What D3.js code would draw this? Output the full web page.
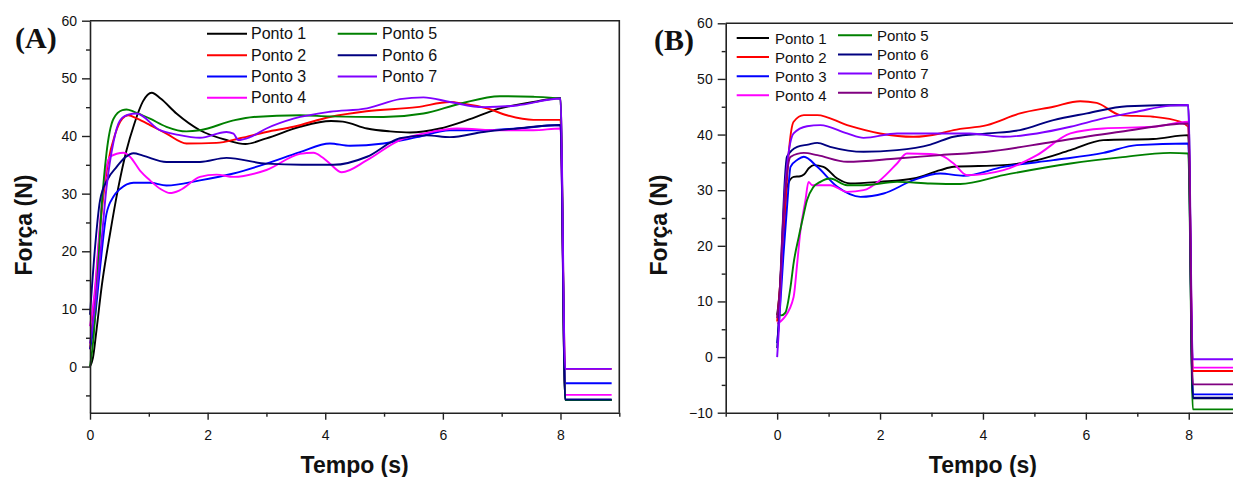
<!DOCTYPE html>
<html>
<head>
<meta charset="utf-8">
<script src="https://cdn.jsdelivr.net/npm/d3@7"></script>
<style>
  body { margin: 0; background: #fff; }
  svg { display: block; }
  text { font-family: "Liberation Sans", Arial, sans-serif; fill: #111; }
</style>
</head>
<body>
<svg id="chart" width="1233" height="477"></svg>
<script>
// ---- Data: force (N) vs time (s), pairs of [tempo, forca] ----
const seriesNames = ["Ponto 1", "Ponto 2", "Ponto 3", "Ponto 4", "Ponto 5", "Ponto 6", "Ponto 7", "Ponto 8"];

// Panel A
const pontoA1 = [[0,0],[0.05,1.5],[0.11,6.3],[0.2,14],[0.34,23],[0.48,31],[0.62,37.5],[0.75,42],[0.9,46],[1.05,47.5],[1.2,46.5],[1.47,43.9],[1.87,41.0],[2.32,39.3],[2.64,38.6],[3.0,39.6],[3.57,41.6],[4.1,42.6],[4.3,42.5],[4.71,41.3],[5.1,40.8],[5.44,40.6],[5.95,41.3],[6.4,42.7],[6.97,44.8],[7.54,45.9],[8.0,46.6],[8.08,-5.8],[8.87,-5.8]];
const pontoA2 = [[0,3],[0.08,12],[0.18,25],[0.3,35],[0.43,40.4],[0.55,43],[0.65,43.6],[0.8,43],[1.02,41.9],[1.3,40.4],[1.64,38.7],[2.15,38.8],[2.55,39.6],[3.0,40.7],[3.46,41.6],[4.08,43.3],[4.7,44.3],[5.56,45.0],[6.12,45.9],[6.35,45.6],[6.75,44.8],[7.09,43.6],[7.54,42.8],[8.0,42.8],[8.08,-0.4],[8.87,-0.4]];
const pontoA3 = [[0,3],[0.08,8],[0.17,17],[0.28,26.5],[0.4,29.5],[0.51,30.8],[0.74,31.9],[1.02,31.9],[1.3,31.4],[1.87,32.3],[2.44,33.5],[3.0,35.2],[3.57,37.2],[4.08,38.7],[4.42,38.3],[4.99,38.7],[5.56,39.8],[6.12,41.0],[6.69,41.0],[7.26,41.3],[8.0,41.9],[8.08,-2.9],[8.87,-2.9]];
const pontoA4 = [[0,7],[0.08,13],[0.18,26],[0.27,34],[0.34,36.4],[0.57,37.1],[0.68,36.4],[0.85,34],[1.02,32.3],[1.2,30.8],[1.36,30.1],[1.53,30.6],[1.87,32.9],[2.15,33.3],[2.44,32.9],[3.0,34.1],[3.57,36.9],[3.8,37.1],[3.95,36.3],[4.08,35.2],[4.28,33.7],[4.71,35.8],[5.27,39.3],[5.67,40.4],[6.24,41.3],[6.97,41.0],[7.54,41.0],[8.0,41.3],[8.08,-4.9],[8.87,-4.9]];
const pontoA5 = [[0,0],[0.06,5],[0.13,16],[0.2,28],[0.28,37],[0.4,43],[0.55,44.5],[0.62,44.6],[0.75,44.2],[1.02,43.0],[1.3,41.6],[1.64,40.8],[1.87,41.0],[2.44,42.7],[2.78,43.3],[3.57,43.6],[4.08,43.4],[4.99,43.3],[5.67,43.9],[6.29,45.6],[6.97,46.9],[7.54,46.8],[8.0,46.5],[8.08,-5.8],[8.87,-5.8]];
const pontoA6 = [[0,9],[0.08,20],[0.17,28.8],[0.3,32.5],[0.45,34.6],[0.6,36.3],[0.74,37.0],[0.9,36.6],[1.3,35.5],[1.87,35.5],[2.32,36.2],[3.0,35.2],[3.6,35.0],[4.14,35.0],[4.71,36.4],[5.27,39.6],[5.73,40.1],[6.12,39.8],[6.69,40.7],[7.26,41.3],[8.0,41.9],[8.08,-5.7],[8.87,-5.7]];
const pontoA7 = [[0,4],[0.08,10],[0.18,20],[0.28,31],[0.4,39],[0.51,42.7],[0.65,43.7],[0.79,43.9],[1.19,41.0],[1.5,40.2],[1.87,39.7],[2.32,40.7],[2.44,40.4],[2.52,39.3],[2.72,39.8],[3.0,41.3],[3.46,43.0],[4.08,44.2],[4.71,44.8],[5.27,46.4],[5.67,46.7],[6.12,45.9],[6.69,45.0],[7.26,45.3],[8.0,46.5],[8.08,-0.4],[8.87,-0.4]];

// Panel B
const pontoB1 = [[0,7.5],[0.05,12],[0.1,20],[0.15,27],[0.19,30.6],[0.32,32.4],[0.45,32.5],[0.52,32.8],[0.62,34],[0.71,34.5],[0.9,34.2],[1.17,32.1],[1.42,31.2],[2.0,31.5],[2.65,32.1],[3.17,33.6],[3.43,34.2],[4.4,34.5],[5.05,35.4],[5.7,37.2],[6.34,39.0],[7.31,39.2],[7.99,39.9],[8.08,-7.4],[9,-7.4]];
const pontoB2 = [[0,6.4],[0.05,12],[0.13,22.2],[0.23,37.2],[0.32,42.3],[0.52,43.5],[0.78,43.5],[1.36,41.7],[2.0,40.2],[2.65,39.6],[3.17,40.2],[3.43,40.8],[4.08,41.7],[4.72,43.8],[5.37,45.0],[5.89,46.0],[6.21,45.7],[6.67,43.5],[7.31,43.2],[7.83,42.3],[7.99,41.4],[8.08,-2.5],[9,-2.5]];
const pontoB3 = [[0,2.5],[0.05,8],[0.12,18],[0.2,28],[0.26,34.2],[0.4,35.5],[0.52,36.0],[0.78,34.2],[1.17,30.6],[1.62,28.8],[2.07,29.4],[2.65,31.8],[3.17,33.0],[3.62,32.6],[4.4,34.2],[5.37,35.4],[6.34,36.7],[6.99,38.1],[7.99,38.4],[8.08,-6.7],[9,-6.7]];
const pontoB4 = [[0,6],[0.13,7.0],[0.32,10.8],[0.39,16.9],[0.45,22.5],[0.55,28.2],[0.61,31.5],[0.68,30.9],[0.78,30.9],[1.03,30.9],[1.36,29.7],[1.68,30.0],[2.0,31.8],[2.33,34.8],[2.52,36.6],[2.98,36.5],[3.17,36.3],[3.43,34.8],[3.69,32.7],[4.4,33.6],[5.05,36.3],[5.7,40.2],[6.34,41.1],[7.31,41.4],[7.99,42.3],[8.08,-1.9],[9,-1.9]];
const pontoB5 = [[0,8],[0.08,7.5],[0.16,8],[0.26,12.6],[0.32,16.9],[0.42,21.6],[0.5,25],[0.58,28.2],[0.7,30.5],[0.84,31.5],[1.03,32.1],[1.36,30.9],[1.68,30.9],[2.33,31.5],[2.98,31.2],[3.56,31.1],[4.4,32.7],[5.7,34.8],[6.67,35.9],[7.64,36.7],[7.99,36.6],[8.08,-9.4],[9,-9.4]];
const pontoB6 = [[0,1.6],[0.05,10],[0.1,22],[0.15,32],[0.19,36],[0.39,37.8],[0.6,38.2],[0.78,38.5],[1.03,37.8],[1.68,36.9],[2.33,37.2],[2.98,38.2],[3.43,39.6],[4.08,40.2],[4.72,40.8],[5.37,42.6],[6.02,43.8],[6.8,45.1],[7.99,45.3],[8.08,-7.3],[9,-7.3]];
const pontoB7 = [[0,0],[0.05,8],[0.1,20],[0.15,30],[0.19,34.2],[0.32,40.2],[0.58,41.5],[0.84,41.7],[1.36,40.2],[1.68,39.4],[2.33,40.2],[2.98,40.2],[3.75,40.2],[4.4,39.6],[5.05,40.2],[5.7,41.4],[6.34,42.9],[6.99,44.1],[7.64,45.2],[7.99,45.3],[8.08,-0.4],[9,-0.4]];
const pontoB8 = [[0,7],[0.05,12],[0.1,22],[0.18,32],[0.26,36],[0.52,36.7],[0.78,36.3],[1.36,35.1],[2.33,35.7],[3.17,36.3],[4.08,36.9],[5.37,38.7],[6.67,40.5],[7.99,42.0],[8.08,-4.9],[9,-4.9]];

// Tick values
const xMajorTicks = [0, 2, 4, 6, 8];
const xMinorTicksA = [1, 3, 5, 7, 9];
const xMinorTicksB = [-1, 1, 3, 5, 7, 9];
const yMajorTicksA = [0, 10, 20, 30, 40, 50, 60];
const yMinorTicksA = [-5, 5, 15, 25, 35, 45, 55];
const yMajorTicksB = [-10, 0, 10, 20, 30, 40, 50, 60];
const yMinorTicksB = [-5, 5, 15, 25, 35, 45, 55];

// ---- Styling ----
const lineColors = ["#000000", "#ff0000", "#0000ff", "#ff00ff", "#008000", "#000080", "#8000ff", "#800080"];
const axisColor = "#222";

const svg = d3.select("#chart");

function drawPanel(p) {
  const g = svg.append("g");
  const x = d3.scaleLinear().domain(p.xDomain).range([p.left, p.right]);
  const y = d3.scaleLinear().domain(p.yDomain).range([p.bottom, p.top]);

  // frame (top and right edges)
  g.append("path")
    .attr("d", `M${p.left},${p.top}H${p.right}V${p.bottom}`)
    .attr("fill", "none").attr("stroke", axisColor).attr("stroke-width", 1.6);

  // curves
  const line = d3.line().x(d => x(d[0])).y(d => y(d[1])).curve(d3.curveMonotoneX);
  p.series.forEach((s, i) => {
    g.append("path").datum(s)
      .attr("d", line)
      .attr("fill", "none")
      .attr("stroke", lineColors[i])
      .attr("stroke-width", 1.9)
      .attr("stroke-linejoin", "round");
  });

  // bottom axis: major + minor ticks
  const xAxis = g.append("g").attr("transform", `translate(0,${p.bottom})`)
    .call(d3.axisBottom(x).tickValues(xMajorTicks).tickSize(7).tickSizeOuter(0).tickPadding(10).tickFormat(d3.format("d")));
  g.append("g").attr("transform", `translate(0,${p.bottom})`)
    .call(d3.axisBottom(x).tickValues(p.xMinor).tickSize(4).tickSizeOuter(0).tickFormat(""))
    .select(".domain").remove();

  // left axis: major + minor ticks
  const yAxis = g.append("g").attr("transform", `translate(${p.left},0)`)
    .call(d3.axisLeft(y).tickValues(p.yMajor).tickSize(8).tickSizeOuter(0).tickPadding(5).tickFormat(d3.format("d")));
  g.append("g").attr("transform", `translate(${p.left},0)`)
    .call(d3.axisLeft(y).tickValues(p.yMinor).tickSize(4).tickSizeOuter(0).tickFormat(""))
    .select(".domain").remove();

  g.selectAll(".domain").attr("stroke", axisColor).attr("stroke-width", 1.6);
  g.selectAll(".tick line").attr("stroke", axisColor).attr("stroke-width", 1.4);
  xAxis.selectAll(".tick text").attr("font-size", 14).attr("fill", "#111")
    .attr("font-family", "'Liberation Sans', Arial, sans-serif");
  yAxis.selectAll(".tick text").attr("font-size", 14).attr("fill", "#111")
    .attr("font-family", "'Liberation Sans', Arial, sans-serif");

  // axis titles
  g.append("text")
    .attr("x", (p.left + p.right) / 2).attr("y", 473)
    .attr("text-anchor", "middle").attr("font-size", 23).attr("font-weight", "bold")
    .text("Tempo (s)");
  g.append("text")
    .attr("transform", `translate(${p.yTitleX},${p.yTitleY}) rotate(-90)`)
    .attr("text-anchor", "middle").attr("font-size", 23).attr("font-weight", "bold")
    .text("Força (N)");

  // panel tag
  g.append("text")
    .attr("x", p.tagX).attr("y", p.tagY)
    .attr("font-family", "'Liberation Serif', 'Times New Roman', serif")
    .style("font-family", "'Liberation Serif', 'Times New Roman', serif")
    .attr("font-size", 30).attr("font-weight", "bold")
    .text(p.tag);

  // legend
  p.legend.forEach(col => {
    col.items.forEach((idx, r) => {
      const base = col.rows[r];
      g.append("line")
        .attr("x1", col.x1).attr("x2", col.x2)
        .attr("y1", base - 5.5).attr("y2", base - 5.5)
        .attr("stroke", lineColors[idx]).attr("stroke-width", 1.9);
      g.append("text")
        .attr("x", col.tx).attr("y", base)
        .attr("font-size", p.legendFont)
        .text(seriesNames[idx]);
    });
  });
}

drawPanel({
  left: 90, right: 619.3, top: 20.7, bottom: 412.7,
  xDomain: [0, 9], yDomain: [-8, 60],
  xMinor: xMinorTicksA, yMajor: yMajorTicksA, yMinor: yMinorTicksA,
  series: [pontoA1, pontoA2, pontoA3, pontoA4, pontoA5, pontoA6, pontoA7],
  yTitleX: 32, yTitleY: 225,
  tag: "(A)", tagX: 15, tagY: 48,
  legendFont: 16,
  legend: [
    { x1: 207, x2: 247, tx: 251, items: [0, 1, 2, 3], rows: [39.3, 60.7, 82, 103.3] },
    { x1: 337.7, x2: 377, tx: 382, items: [4, 5, 6], rows: [39.3, 60.7, 82] }
  ]
});

drawPanel({
  left: 725.7, right: 1240.2, top: 23.3, bottom: 412.7,
  xDomain: [-1, 9], yDomain: [-10, 60],
  xMinor: xMinorTicksB, yMajor: yMajorTicksB, yMinor: yMinorTicksB,
  series: [pontoB1, pontoB2, pontoB3, pontoB4, pontoB5, pontoB6, pontoB7, pontoB8],
  yTitleX: 667, yTitleY: 225,
  tag: "(B)", tagX: 654, tagY: 50,
  legendFont: 15,
  legend: [
    { x1: 736.7, x2: 769, tx: 775, items: [0, 1, 2, 3], rows: [43.5, 62.5, 81.7, 100.7] },
    { x1: 838, x2: 872, tx: 877, items: [4, 5, 6, 7], rows: [40.7, 60, 79, 98.3] }
  ]
});
</script>
</body>
</html>
